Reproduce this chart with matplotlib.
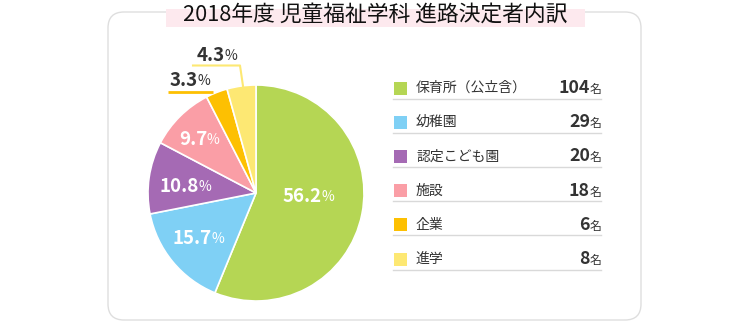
import matplotlib
matplotlib.use("Agg")
import matplotlib.pyplot as plt
from matplotlib.patches import FancyBboxPatch, Rectangle

plt.rcParams['font.family'] = ['Noto Sans CJK JP', 'DejaVu Sans']

# data
title = "2018年度 児童福祉学科 進路決定者内訳"
categories = ["保育所（公立含）", "幼稚園", "認定こども園", "施設", "企業", "進学"]
counts = [104, 29, 20, 18, 6, 8]
pct_labels = ["56.2", "15.7", "10.8", "9.7", "3.3", "4.3"]
colors = ["#b5d654", "#7fd0f5", "#a56ab4", "#fa9ea6", "#fdc002", "#fde873"]

# label anchor (pixel coords: split point between number and %, y center)
label_pos = [(322, 196), (212, 238), (199, 186), (207, 139), (198, 80), (225, 55)]
label_inside = [True, True, True, True, False, False]

W, H = 750, 322
fig = plt.figure(figsize=(W / 100, H / 100), dpi=100)

def pixel_axes(z):
    ax = fig.add_axes([0, 0, 1, 1], zorder=z)
    ax.set_xlim(0, W)
    ax.set_ylim(H, 0)
    ax.axis('off')
    ax.patch.set_alpha(0)
    return ax

# background card
bg = pixel_axes(0)
card = FancyBboxPatch((108, 12), 533, 308, boxstyle="round,pad=0,rounding_size=16",
                      fc='white', ec='#dedede', lw=1)
bg.add_patch(card)
bg.add_patch(Rectangle((166, 9), 419, 18, fc='#fde9ee', ec='none'))
bg.text(375, 14.5, title, ha='center', va='center', fontsize=15.7, color='#111111')

# pie
cx, cy, r = 256, 193, 108
pax = fig.add_axes([(cx - r) / W, (H - cy - r) / H, 2 * r / W, 2 * r / H], zorder=1)
pax.pie(counts, colors=colors, startangle=90, counterclock=False,
        wedgeprops=dict(edgecolor='white', linewidth=1.2))
pax.set_xlim(-1, 1)
pax.set_ylim(-1, 1)
pax.set_aspect('equal')
pax.patch.set_alpha(0)

# top layer: labels + legend
top = pixel_axes(2)

# leader lines for small slices
top.plot([168, 213], [92, 92], color='#fdc002', lw=2, solid_capstyle='butt')
top.plot([193, 240, 243], [65.5, 65.5, 86], color='#fde873', lw=1.5)

for lab, (x, y), inside in zip(pct_labels, label_pos, label_inside):
    c = 'white' if inside else '#333333'
    top.text(x, y, lab, ha='right', va='center', fontsize=13.5, fontweight='bold', color=c)
    top.text(x - 0.5, y + 1, "%", ha='left', va='center', fontsize=10, color=c)

# legend
row_y0, row_step = 88, 34.2
for i, (cat, n, col) in enumerate(zip(categories, counts, colors)):
    y = row_y0 + i * row_step
    top.add_patch(Rectangle((394, y - 6.5), 13, 13, fc=col, ec='none'))
    top.text(416, y, cat, ha='left', va='center', fontsize=10, color='#333333')
    top.text(590, y, str(n), ha='right', va='center', fontsize=12.8, fontweight='bold', color='#333333')
    top.text(589.5, y + 1.5, "名", ha='left', va='center', fontsize=8.5, color='#333333')
    top.plot([393, 601], [y + 10.5, y + 10.5], color='#d9d9d9', lw=1)

fig.savefig("out.png", dpi=100)
